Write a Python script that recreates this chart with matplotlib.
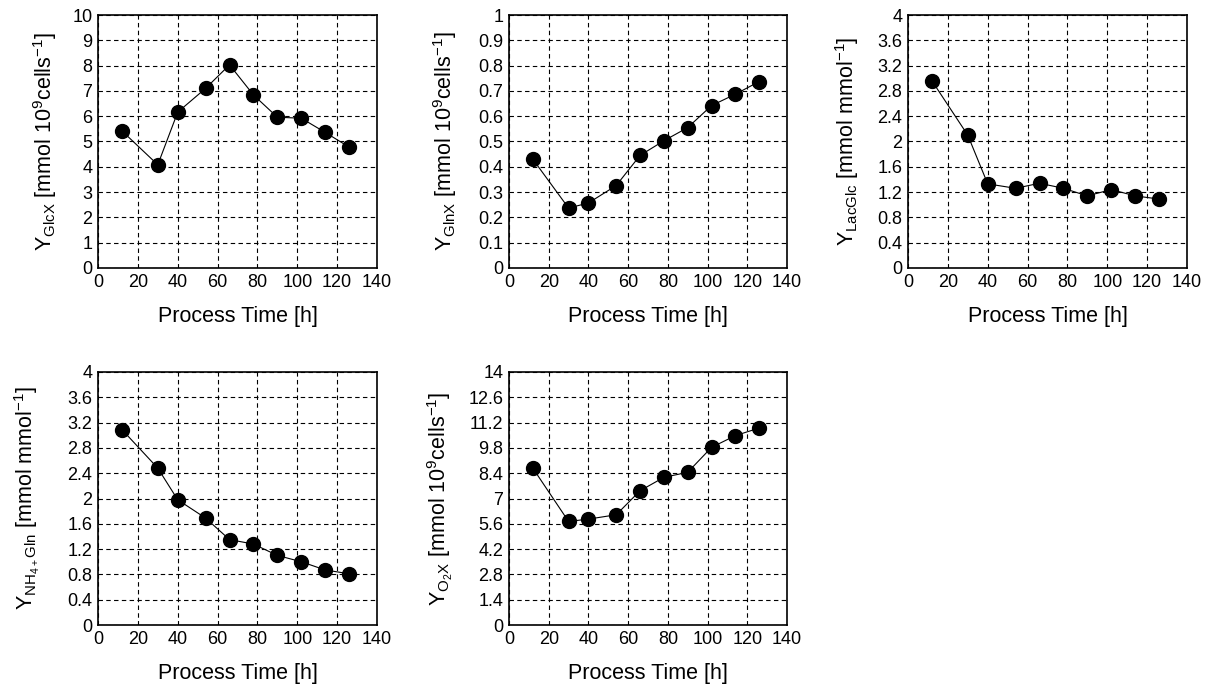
import matplotlib
matplotlib.use('Agg')
import matplotlib.pyplot as plt

plt.rcParams['font.family'] = ['Liberation Sans', 'DejaVu Sans']
plt.rcParams['mathtext.fontset'] = 'custom'
plt.rcParams['mathtext.rm'] = 'Liberation Sans'
plt.rcParams['mathtext.it'] = 'Liberation Sans:italic'

# tempo de processo [h]
time_h = [12, 30, 40, 54, 66, 78, 90, 102, 114, 126]

y_glcx = [5.42, 4.08, 6.16, 7.1, 8.03, 6.84, 5.96, 5.92, 5.36, 4.78]
y_glnx = [0.43, 0.237, 0.257, 0.326, 0.445, 0.503, 0.555, 0.642, 0.687, 0.737]
y_lacglc = [2.96, 2.1, 1.33, 1.26, 1.34, 1.26, 1.14, 1.24, 1.14, 1.09]
y_nh4gln = [3.09, 2.48, 1.98, 1.69, 1.35, 1.28, 1.10, 1.0, 0.87, 0.81]
y_o2x = [8.68, 5.73, 5.86, 6.1, 7.43, 8.17, 8.45, 9.83, 10.48, 10.9]

labels = [r'Y$_{\mathrm{GlcX}}$ [mmol 10$^{9}$cells$^{\mathrm{-1}}$]',
          r'Y$_{\mathrm{GlnX}}$ [mmol 10$^{9}$cells$^{\mathrm{-1}}$]',
          r'Y$_{\mathrm{LacGlc}}$ [mmol mmol$^{\mathrm{-1}}$]',
          r'Y$_{\mathrm{NH_{4+}Gln}}$ [mmol mmol$^{\mathrm{-1}}$]',
          r'Y$_{\mathrm{O_2X}}$ [mmol 10$^{9}$cells$^{\mathrm{-1}}$]']

yticks = [[0, 1, 2, 3, 4, 5, 6, 7, 8, 9, 10],
          [0, 0.1, 0.2, 0.3, 0.4, 0.5, 0.6, 0.7, 0.8, 0.9, 1],
          [0, 0.4, 0.8, 1.2, 1.6, 2, 2.4, 2.8, 3.2, 3.6, 4],
          [0, 0.4, 0.8, 1.2, 1.6, 2, 2.4, 2.8, 3.2, 3.6, 4],
          [0, 1.4, 2.8, 4.2, 5.6, 7, 8.4, 9.8, 11.2, 12.6, 14]]

series = [y_glcx, y_glnx, y_lacglc, y_nh4gln, y_o2x]

fig = plt.figure(figsize=(12.12, 6.87), dpi=100)
W, H = 1212, 687
# posições dos eixos em pixels (esq, topo, dir, base)
boxes = [(98, 15, 377, 268), (509, 15, 787, 268), (908, 15, 1187, 268),
         (98, 372, 377, 625), (509, 372, 787, 625)]
label_x = [-0.19, -0.23, -0.219, -0.254, -0.245]  # posição do ylabel

for k in range(5):
    l, t, r, b = boxes[k]
    ax = fig.add_axes([l / W, 1 - b / H, (r - l) / W, (b - t) / H])
    ax.plot(time_h, series[k], '-', color='black', lw=0.8,
            marker='o', markersize=10, markerfacecolor='black', zorder=3)
    ax.set_xlim(0, 140)
    ax.set_xticks(range(0, 141, 20))
    ax.set_ylim(yticks[k][0], yticks[k][-1])
    ax.set_yticks(yticks[k])
    ax.set_yticklabels(['{:g}'.format(v) for v in yticks[k]])
    ax.grid(True, color='black', linestyle=(0, (4, 3)), linewidth=0.8)
    ax.tick_params(direction='in', length=0, labelsize=13, pad=4)
    for s in ax.spines.values():
        s.set_linewidth(1.2)
    ax.set_xlabel('Process Time [h]', fontsize=15.5, labelpad=11)
    ax.set_ylabel(labels[k], fontsize=15.5, va='center')
    ax.yaxis.set_label_coords(label_x[k], 0.5)

fig.savefig('out.png', dpi=100)
